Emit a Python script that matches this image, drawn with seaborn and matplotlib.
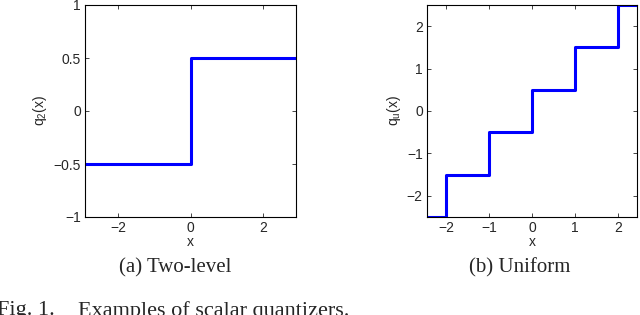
import numpy as np
import pandas as pd
import matplotlib
matplotlib.use("Agg")
import matplotlib.pyplot as plt
import seaborn as sns

# two-level quantizer q_2(x)
two_x = [-2.92, 0, 0, 2.92]
two_y = [-0.5, -0.5, 0.5, 0.5]

# uniform quantizer q_u(x)
uni_x = [-2.5, -2, -2, -1, -1, 0, 0, 1, 1, 2, 2, 2.5]
uni_y = [-2.5, -2.5, -1.5, -1.5, -0.5, -0.5, 0.5, 0.5, 1.5, 1.5, 2.5, 2.5]

sns.set_style("white")
plt.rcParams["font.family"] = ["Liberation Sans", "DejaVu Sans"]
plt.rcParams["mathtext.fontset"] = "custom"
plt.rcParams["mathtext.rm"] = "Liberation Sans"
plt.rcParams["mathtext.it"] = "Liberation Sans"

fig = plt.figure(figsize=(6.4, 3.15), dpi=100)
ax1 = fig.add_axes([85 / 640, 1 - 217 / 315, 211 / 640, 212 / 315])
ax2 = fig.add_axes([427 / 640, 1 - 217 / 315, 210 / 640, 212 / 315])

df1 = pd.DataFrame({"x": two_x, "y": two_y})
df2 = pd.DataFrame({"x": uni_x, "y": uni_y})
sns.lineplot(data=df1, x="x", y="y", sort=False, estimator=None, color="#0000ff", lw=2.2, ax=ax1)
sns.lineplot(data=df2, x="x", y="y", sort=False, estimator=None, color="#0000ff", lw=2.2, ax=ax2)

ax1.set_xlim(-2.92, 2.92)
ax1.set_ylim(-1, 1)
ax1.set_xticks([-2, 0, 2])
ax1.set_yticks([-1, -0.5, 0, 0.5, 1])
ax1.set_yticklabels(["\u22121", "\u22120.5", "0", "0.5", "1"])
ax1.set_xticklabels(["\u22122", "0", "2"])
ax1.set_ylabel("q$_2$(x)", fontsize=10, labelpad=3)

ax2.set_xlim(-2.45, 2.45)
ax2.set_ylim(-2.5, 2.5)
ax2.set_xticks([-2, -1, 0, 1, 2])
ax2.set_yticks([-2, -1, 0, 1, 2])
ax2.set_xticklabels(["\u22122", "\u22121", "0", "1", "2"])
ax2.set_yticklabels(["\u22122", "\u22121", "0", "1", "2"])
ax2.set_ylabel("q$_u$(x)", fontsize=10, labelpad=3)

for ax in (ax1, ax2):
    ax.set_xlabel("x", fontsize=10, labelpad=0)
    ax.tick_params(direction="in", length=3, width=0.6, labelsize=10,
                   top=True, right=True, bottom=True, left=True, pad=3)
    for s in ax.spines.values():
        s.set_linewidth(0.8)
        s.set_color("black")

fig.text(175 / 640, 1 - 268 / 315, "(a) Two-level", ha="center", va="center",
         fontsize=15, family="Liberation Serif")
fig.text(520 / 640, 1 - 268 / 315, "(b) Uniform", ha="center", va="center",
         fontsize=15, family="Liberation Serif")
fig.text(-3 / 640, 1 - 311 / 315, "Fig. 1.", ha="left",
         va="center", fontsize=16, family="Liberation Serif")
fig.text(78 / 640, 1 - 311 / 315, "Examples of scalar quantizers.", ha="left",
         va="center", fontsize=16, family="Liberation Serif")

fig.savefig("out.png", dpi=100)
